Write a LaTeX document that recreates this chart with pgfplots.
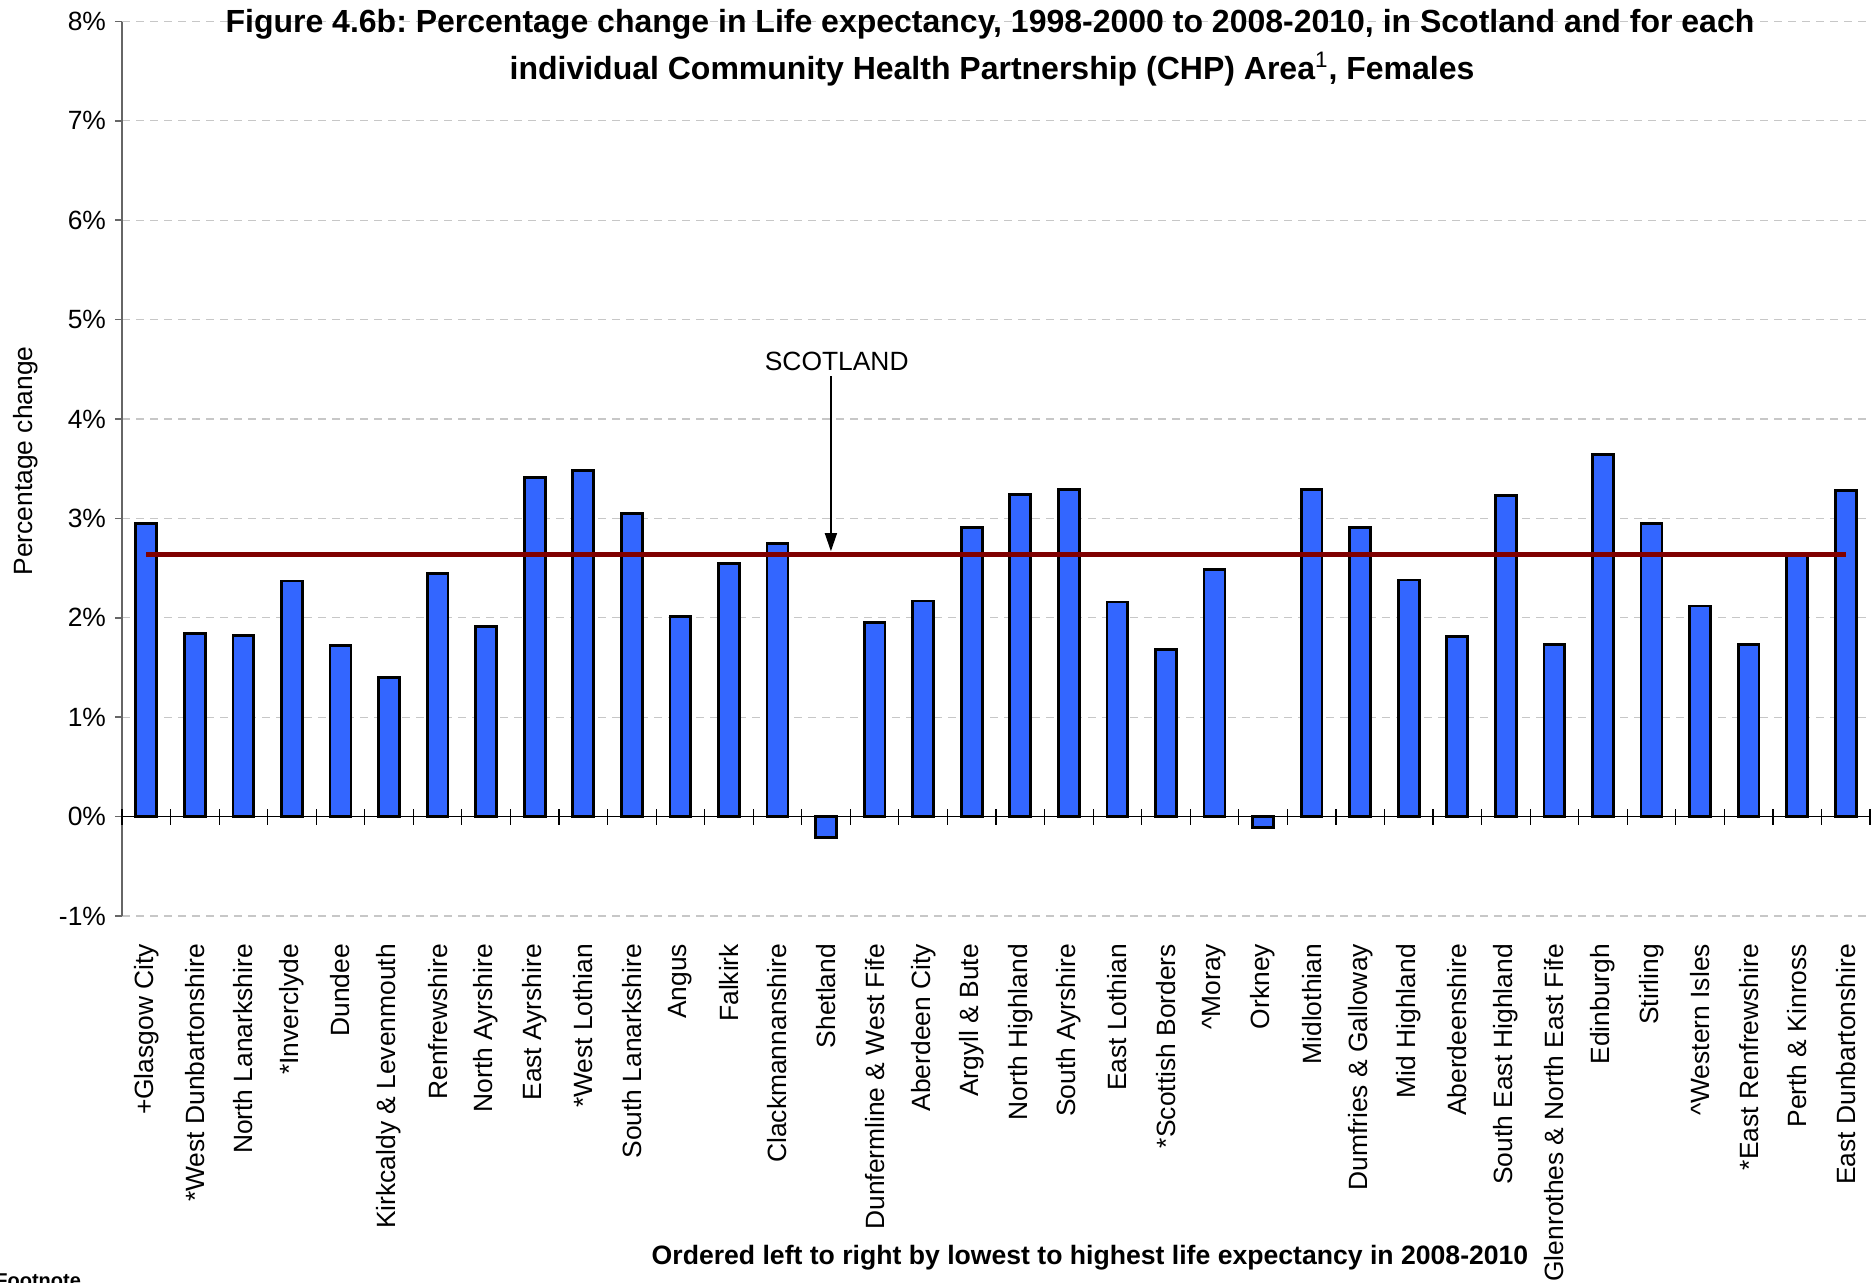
\documentclass[border=0pt]{standalone}
\usepackage{pgfplots}
\pgfplotsset{compat=1.18}
\usepackage{pgfplotstable}
\usepackage{fontspec}
\setmainfont{Liberation Sans}
\usetikzlibrary{arrows.meta}
\frenchspacing

\definecolor{barblue}{HTML}{3366FF}
\definecolor{scotred}{HTML}{800000}

% percentage change 1998-2000 to 2008-2010, females
\pgfplotstableread{
idx val
0 2.95
1 1.84
2 1.82
3 2.37
4 1.72
5 1.40
6 2.45
7 1.91
8 3.41
9 3.48
10 3.05
11 2.01
12 2.55
13 2.75
14 -0.21
15 1.95
16 2.17
17 2.91
18 3.24
19 3.29
20 2.16
21 1.68
22 2.49
23 -0.11
24 3.29
25 2.91
26 2.38
27 1.81
28 3.23
29 1.73
30 3.64
31 2.95
32 2.12
33 1.73
34 2.65
35 3.28
}\chpdata

\begin{document}
\begin{tikzpicture}[font=\fontsize{13.2pt}{15.8pt}\selectfont]
\path[use as bounding box] (0,0) rectangle (936pt,641.5pt);
\begin{axis}[
    ,at={(61pt,183.5pt)},anchor=south west
    ,width=874pt,height=447.25pt,scale only axis
    ,xmin=-0.5,xmax=35.5,ymin=-1,ymax=8
    ,axis x line*=bottom,axis y line*=left
    ,x axis line style={draw=none}
    ,y axis line style={draw=black!60,line width=0.8pt}
    ,ytick={-1,0,...,8}
    ,yticklabels={-1\%,0\%,1\%,2\%,3\%,4\%,5\%,6\%,7\%,8\%}
    ,ytick style={draw=black!60,line width=0.8pt}
    ,tick align=outside,major tick length=3.5pt
    ,ymajorgrids
    ,major grid style={draw=black!22,line width=0.6pt,dash pattern=on 4pt off 3pt}
    ,xtick={0,...,35}
    ,x tick style={draw=none}
    ,xticklabels={+Glasgow City,*West Dunbartonshire,North Lanarkshire,*Inverclyde,Dundee,
        Kirkcaldy \& Levenmouth,Renfrewshire,North Ayrshire,East Ayrshire,*West Lothian,
        South Lanarkshire,Angus,Falkirk,Clackmannanshire,Shetland,Dunfermline \& West Fife,
        Aberdeen City,Argyll \& Bute,North Highland,South Ayrshire,East Lothian,
        *Scottish Borders,\textasciicircum Moray,Orkney,Midlothian,Dumfries \& Galloway,
        Mid Highland,Aberdeenshire,South East Highland,Glenrothes \& North East Fife,
        Edinburgh,Stirling,\textasciicircum Western Isles,*East Renfrewshire,
        Perth \& Kinross,East Dunbartonshire}
    ,xticklabel style={rotate=90,anchor=east}
    ,xticklabel shift=7pt
    ,yticklabel shift=1pt
    ,clip=false
    ]
    \addplot[ybar,bar width=0.43,fill=barblue,draw=black,line width=1.4pt] table[x=idx,y=val]{\chpdata};
    \addplot[draw=scotred,line width=2.4pt] coordinates {(0,2.64) (35,2.64)};
    \draw[black,line width=0.8pt] (axis cs:-0.5,0) -- (axis cs:35.5,0);
    \pgfplotsinvokeforeach{-0.5,0.5,...,35.5}{
        \draw[black,line width=0.6pt] (axis cs:#1,0) ++(0pt,-4pt) -- ++(0pt,8pt);
    }
    \draw[-{Triangle[length=9pt,width=6pt]},line width=0.7pt] (axis cs:14.1,4.43) -- (axis cs:14.1,2.67);
    \node at (axis cs:14.22,4.58) {SCOTLAND};
\end{axis}
\node[font=\bfseries\fontsize{16pt}{19pt}\selectfont,anchor=base] at (495pt,625pt)
    {Figure 4.6b: Percentage change in Life expectancy, 1998-2000 to 2008-2010, in Scotland and for each};
\node[font=\bfseries\fontsize{16pt}{19pt}\selectfont,anchor=base] at (496pt,601.5pt)
    {individual Community Health Partnership (CHP) Area\textsuperscript{\mdseries 1}, Females};
\node[rotate=90] at (13pt,411pt) {Percentage change};
\node[font=\bfseries\fontsize{13.3pt}{16pt}\selectfont,anchor=base] at (545pt,9pt)
    {Ordered left to right by lowest to highest life expectancy in 2008-2010};
\node[font=\bfseries\fontsize{10pt}{12pt}\selectfont,anchor=base west,inner sep=0pt] at (-2.5pt,-2.5pt) {Footnote};
\end{tikzpicture}
\end{document}
